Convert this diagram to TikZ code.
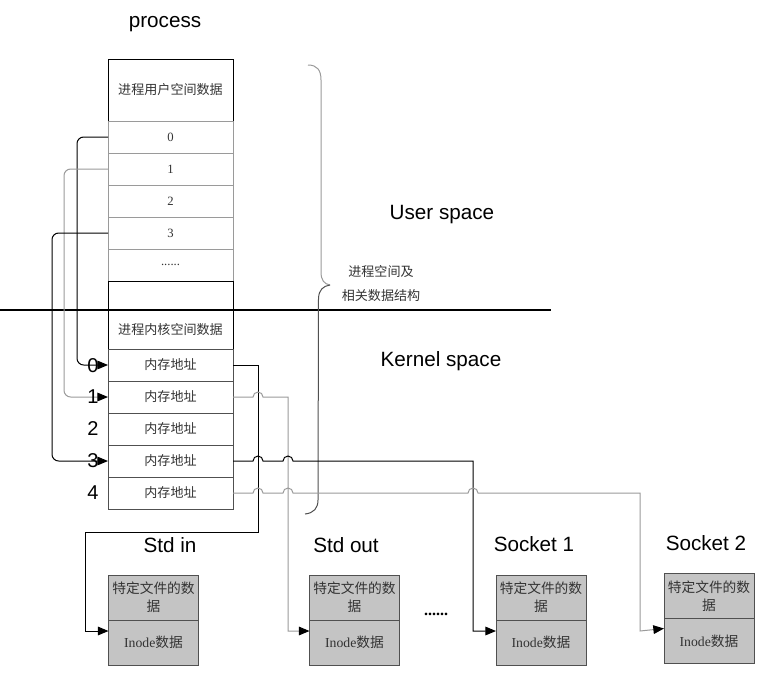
\documentclass[tikz,border=0pt]{standalone}
\usepackage{fontspec}
\setmainfont{Liberation Serif}
\setsansfont{Liberation Sans}
\newfontfamily\cjk{Noto Sans CJK SC}
\usetikzlibrary{arrows.meta,calc}
\definecolor{lg}{HTML}{9A9A9A}
\definecolor{dg}{HTML}{505050}
\definecolor{txt}{HTML}{333333}
\definecolor{boxgray}{HTML}{C4C4C4}
\begin{document}
\begin{tikzpicture}[x=0.75pt,y=-0.75pt,
  pcell/.style={draw=black, line width=0.75pt, minimum width=93.75pt, inner sep=0pt, outer sep=0pt, text=txt, font=\cjk\fontsize{9.8}{12}\selectfont},
  urow/.style={pcell, draw=lg, minimum height=24pt, font=\fontsize{9.5}{12}\selectfont},
  krow/.style={pcell, draw=dg, minimum height=24pt},
  klab/.style={font=\sffamily\fontsize{15}{16}\selectfont},
  biglab/.style={font=\sffamily\fontsize{15.5}{18}\selectfont},
  ftop/.style={draw=dg, fill=boxgray, line width=0.75pt, minimum width=67.5pt, minimum height=33.75pt, inner sep=0pt, outer sep=0pt, align=center, text=txt, font=\cjk\fontsize{10.3}{13.5}\selectfont},
  fbot/.style={ftop, font=\fontsize{10.3}{13}\selectfont},
  bconn/.style={draw=black, line width=0.75pt},
  gconn/.style={draw=lg, line width=0.75pt},
  tip/.style={-{Triangle[length=8pt,width=6.5pt,color=black]}},
  smalltxt/.style={text=txt, font=\cjk\fontsize{9.8}{12}\selectfont}
]
\useasboundingbox (0,0) rectangle (764,676);

% title
\node[biglab] (ptitle) at (165,24) {process};

% user space part of process
\node[pcell, minimum height=46.5pt] (utop) at (170.5,90) {进程用户空间数据};
\node[urow] (u0) at (170.5,137) {0};
\node[urow] (u1) at (170.5,169) {1};
\node[urow] (u2) at (170.5,201) {2};
\node[urow] (u3) at (170.5,233) {3};
\node[urow] (u4) at (170.5,265) {......};
\node[pcell, minimum height=21.75pt] (uempty) at (170.5,295.5) {};

% kernel part
\node[pcell, minimum height=29.25pt] (ktop) at (170.5,329.5) {进程内核空间数据};
\node[krow] (k0) at (170.5,365) {内存地址};
\node[krow] (k1) at (170.5,397) {内存地址};
\node[krow] (k2) at (170.5,429) {内存地址};
\node[krow] (k3) at (170.5,461) {内存地址};
\node[krow] (k4) at (170.5,493) {内存地址};

% separator line
\coordinate (sepL) at (0,310);
\coordinate (sepR) at (551,310);
\draw[line width=1.5pt] (sepL) -- (sepR);

% labels
\node[biglab] (us) at (442,215) {User space};
\node[biglab] (ks) at (441,361) {Kernel space};
\node[smalltxt] (br1) at (381,271) {进程空间及};
\node[smalltxt] (br2) at (381,296) {相关数据结构};

% brace
\draw[lg, line width=0.75pt] (308,65) .. controls (317,65) and (321,70) .. (321,80) -- (321,272) .. controls (321,280) and (324,284) .. (330,285);
\draw[dg, line width=0.75pt] (330,285) .. controls (323,286) and (319,290) .. (318.5,298) -- (318,500) .. controls (318,508) and (314,513) .. (305,514);

% user fd -> kernel rows
\draw[bconn, tip, rounded corners=5pt] (u0.west) -- (77,137) |- (k0.west);
\draw[gconn, tip, rounded corners=5pt] (u1.west) -- (64,169) |- (k1.west);
\draw[bconn, tip, rounded corners=5pt] (u3.west) -- (52,233) |- (k3.west);

% kernel index labels
\node[klab] (i0) at (93,366) {0};
\node[klab] (i1) at (93,397) {1};
\node[klab] (i2) at (93,429) {2};
\node[klab] (i3) at (93,461) {3};
\node[klab] (i4) at (93,493) {4};

% file boxes
\node[ftop] (sit) at (153.5,597.5) {特定文件的数\\据};
\node[fbot] (sib) at (153.5,642.5) {Inode{\cjk 数据}};
\node[ftop] (sot) at (354.5,597.5) {特定文件的数\\据};
\node[fbot] (sob) at (354.5,642.5) {Inode{\cjk 数据}};
\node[ftop] (s1t) at (541,597.5) {特定文件的数\\据};
\node[fbot] (s1b) at (541,642.5) {Inode{\cjk 数据}};
\node[ftop] (s2t) at (709,596) {特定文件的数\\据};
\node[fbot] (s2b) at (709,641) {Inode{\cjk 数据}};

\node[biglab] (lsi) at (170,545) {Std in};
\node[biglab] (lso) at (346,545) {Std out};
\node[biglab] (ls1) at (534,544) {Socket 1};
\node[biglab] (ls2) at (706,543) {Socket 2};
\node[font=\bfseries\fontsize{12}{14}\selectfont] (dots) at (436,614) {......};

% kernel rows -> files
\draw[bconn, tip] (k0.east) -| (258,532) -| (85,631) -- ($(sib.north west)+(0,11)$);
\draw[gconn, tip] (k1.east) -- (253,397) arc[start angle=180,end angle=360,radius=5] -- (288,397) -- (288,631) -- ($(sob.north west)+(0,11)$);
\draw[bconn, tip] (k3.east) -- (253,461) arc[start angle=180,end angle=360,radius=5] -- (283,461) arc[start angle=180,end angle=360,radius=5] -- (473,461) -- (473,631) -- ($(s1b.north west)+(0,11)$);
\draw[gconn, tip] (k4.east) -- (253,493) arc[start angle=180,end angle=360,radius=5] -- (283,493) arc[start angle=180,end angle=360,radius=5] -- (468,493) arc[start angle=180,end angle=360,radius=5] -- (640,493) -- (640,631) -- ($(s2b.north west)+(0,10)$);
\end{tikzpicture}
\end{document}
